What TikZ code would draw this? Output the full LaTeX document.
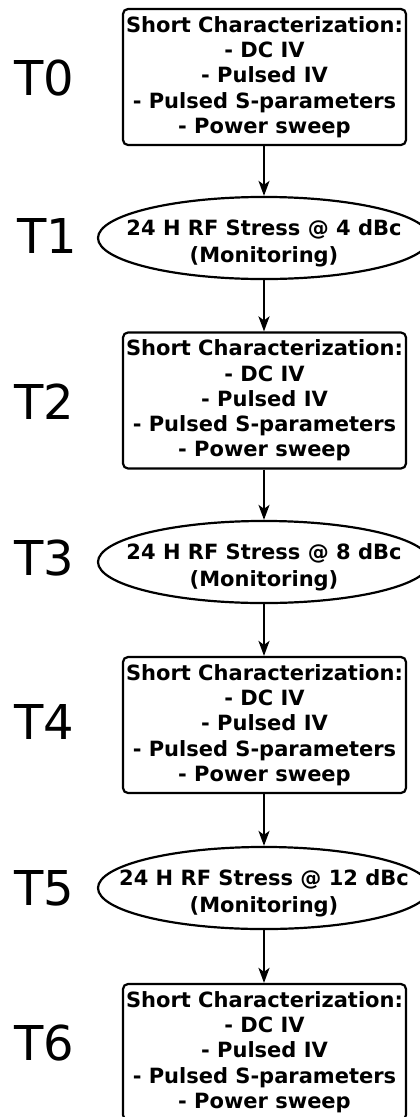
\documentclass[tikz,border=0pt]{standalone}
\usepackage{fontspec}
\setmainfont{DejaVu Sans}
\usetikzlibrary{shapes.geometric,arrows.meta}
\tikzset{
  charbox/.style={draw, line width=2.2pt, rounded corners=5pt, minimum width=283pt, minimum height=136pt,
    inner sep=0pt, align=center, font=\bfseries\fontsize{21}{25.3}\selectfont},
  stressell/.style={draw, ellipse, line width=2.2pt, minimum width=332pt, minimum height=70pt,
    inner sep=0pt, align=center, font=\bfseries\fontsize{21}{26.5}\selectfont},
  tlabel/.style={font=\fontsize{48}{50}\selectfont, inner sep=0pt},
  flow/.style={line width=2.2pt, -{Stealth[length=15pt,width=11pt,inset=4pt]}}
}
\newcommand{\chartext}{Short Characterization:\\- DC IV\\- Pulsed IV\\- Pulsed S-parameters\\- Power sweep}
\newcommand{\stresstext}[1]{\rule{0pt}{27pt}\makebox[0pt]{24 H RF Stress @ #1 dBc}\\\makebox[0pt]{(Monitoring)}}
\begin{document}
\begin{tikzpicture}[x=1pt,y=-1pt]
\useasboundingbox (0,0) rectangle (420,1117);
\node[charbox] (b0) at (264.5,77) {\chartext};
\node[stressell] (e1) at (264,238) {\stresstext{4}};
\node[charbox] (b2) at (264.5,400.5) {\chartext};
\node[stressell] (e3) at (264,562) {\stresstext{8}};
\node[charbox] (b4) at (264.5,725) {\chartext};
\node[stressell] (e5) at (264,888) {\stresstext{12}};
\node[charbox] (b6) at (264.5,1052) {\chartext};
\node[tlabel] (t0) at (44,78) {T0};
\node[tlabel] (t1) at (47,236) {T1};
\node[tlabel] (t2) at (44,402) {T2};
\node[tlabel] (t3) at (44,558) {T3};
\node[tlabel] (t4) at (44,722) {T4};
\node[tlabel] (t5) at (44,888) {T5};
\node[tlabel] (t6) at (44,1043) {T6};
\draw[flow] (b0.south -| e1.north) -- (e1.north);
\draw[flow] (e1.south) -- (e1.south |- b2.north);
\draw[flow] (b2.south -| e3.north) -- (e3.north);
\draw[flow] (e3.south) -- (e3.south |- b4.north);
\draw[flow] (b4.south -| e5.north) -- (e5.north);
\draw[flow] (e5.south) -- (e5.south |- b6.north);
\end{tikzpicture}
\end{document}
